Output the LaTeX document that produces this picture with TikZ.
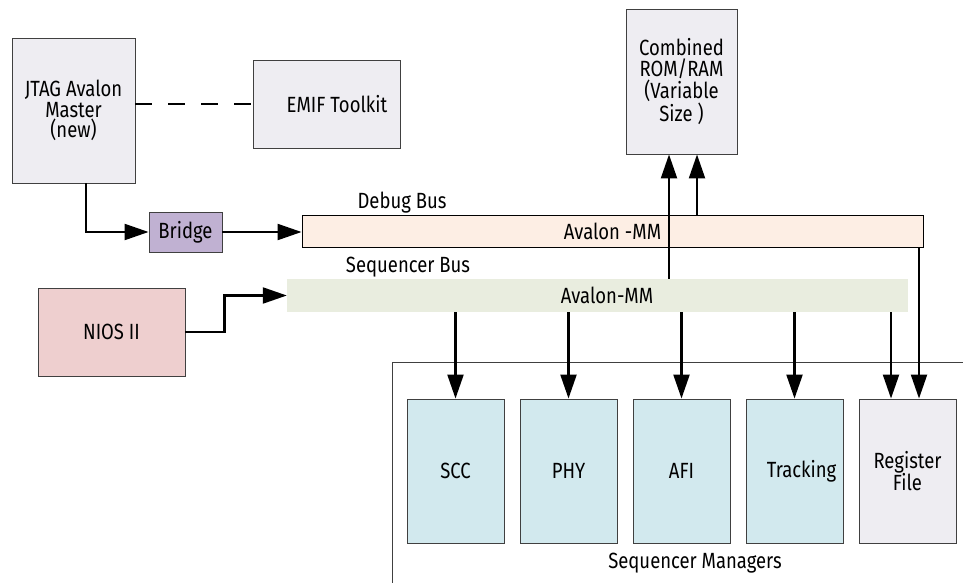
\documentclass[tikz,border=0pt]{standalone}
\usepackage{fontspec}
\setmainfont{Fira Sans}[FakeStretch=0.84]
\usetikzlibrary{arrows.meta,calc}
\definecolor{boxgrey}{HTML}{EEEDF2}
\definecolor{bridgec}{HTML}{C0B1D2}
\definecolor{debugc}{HTML}{FDEEE4}
\definecolor{seqc}{HTML}{E9EDDF}
\definecolor{niosc}{HTML}{EECFCF}
\definecolor{mgrc}{HTML}{D2E9EE}
\definecolor{edgec}{HTML}{404040}
\begin{document}
\begin{tikzpicture}[x=1pt,y=-1pt,
  every node/.style={font=\fontsize{22}{20.5}\selectfont, inner sep=0pt, align=center},
  blk/.style={draw=edgec, line width=0.9pt, rectangle},
  arr/.style={line width=2.2pt, -{Triangle[length=24pt,width=16pt]}},
  conn/.style={line width=2.2pt},
  mgrbox/.style={blk, fill=mgrc, minimum width=97pt, minimum height=144pt},
  lbl/.style={}
]
\useasboundingbox (0,0) rectangle (963,583);

% Sequencer managers frame
\draw[edgec, line width=0.8pt] (392,583) -- (392,362) -- (963,362);
\node[lbl] (smlbl) at (695,563) {Sequencer Managers};

% top-left blocks
\node[blk, fill=boxgrey, minimum width=123pt, minimum height=145pt] (jtag) at (73.5,110.5) {JTAG Avalon\\Master\\(new)};
\node[blk, fill=boxgrey, minimum width=147pt, minimum height=88pt] (emif) at (326.5,104) {\hspace*{21pt}EMIF Toolkit};
\node[blk, fill=bridgec, minimum width=73pt, minimum height=40pt] (bridge) at (185.5,232) {Bridge};
\node[blk, fill=niosc, minimum width=147pt, minimum height=88pt] (nios) at (111.5,332) {NIOS II};
\node[blk, fill=boxgrey, minimum width=111pt, minimum height=145pt] (rom) at (681.5,81.5) {Combined\\ROM/RAM\\(Variable\\Size )};

% buses
\node[draw=black, line width=0.9pt, fill=debugc, minimum width=621pt, minimum height=32pt] (debug) at (612.5,231) {Avalon -MM};
\node[fill=seqc, minimum width=621pt, minimum height=33pt] (seqbus) at (597.5,295.5) {\hspace*{19pt}Avalon-MM};
\node[lbl] (dbglbl) at (402,203) {Debug Bus};
\node[lbl] (seqlbl) at (408,267) {Sequencer Bus};

% managers
\node[mgrbox] (scc) at (455.5,471) {SCC};
\node[mgrbox] (phy) at (568.5,471) {PHY};
\node[mgrbox] (afi) at (681.5,471) {AFI};
\node[mgrbox] (trk) at (794.5,471) {\hspace*{14pt}Tracking};
\node[blk, fill=boxgrey, minimum width=97pt, minimum height=144pt] (reg) at (907.5,471) {Register\\File};

% connectors
\draw[conn, dash pattern=on 17pt off 16pt] (emif.west -| jtag.east) -- (emif.west);
\draw[arr] ([xshift=12.5pt]jtag.south) |- (bridge.west);
\draw[arr] (bridge.east) -- (bridge.east -| debug.west);
\draw[arr] (nios.east) -- ++(39,0) |- (seqbus.west);

\draw[arr] ([xshift=-12.5pt]rom.south |- seqbus.north) -- ([xshift=-12.5pt]rom.south);
\draw[arr] ([xshift=15.5pt]rom.south |- debug.north) -- ([xshift=15.5pt]rom.south);

\draw[arr] (seqbus.south -| scc.north) -- (scc.north);
\draw[arr] (seqbus.south -| phy.north) -- (phy.north);
\draw[arr] (seqbus.south -| afi.north) -- (afi.north);
\draw[arr] (seqbus.south -| trk.north) -- (trk.north);
\draw[arr] ([xshift=-16.5pt]reg.north |- seqbus.south) -- ([xshift=-16.5pt]reg.north);
\draw[arr] ([xshift=11.5pt]reg.north |- debug.south) -- ([xshift=11.5pt]reg.north);
\end{tikzpicture}
\end{document}
